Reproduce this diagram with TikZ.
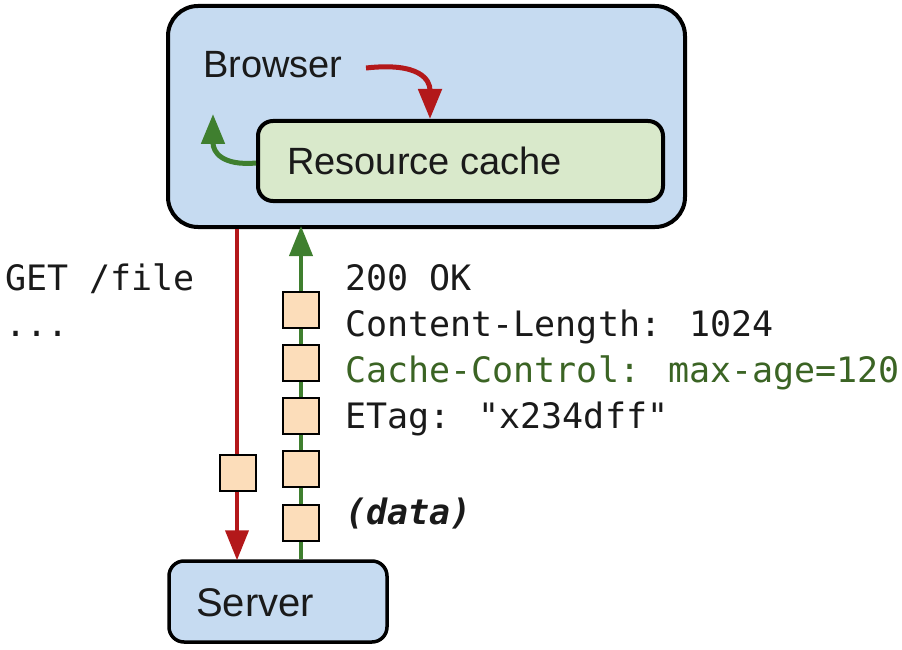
\documentclass[tikz,border=0pt]{standalone}
\usepackage{fontspec}
\setmainfont{Liberation Sans}
\newfontfamily\monofont{DejaVu Sans Mono}
\usetikzlibrary{arrows.meta}
\definecolor{boxblue}{HTML}{C6DBF1}
\definecolor{boxgreen}{HTML}{D9E9CB}
\definecolor{pktfill}{HTML}{FCDDBA}
\definecolor{arrred}{HTML}{B3181A}
\definecolor{arrgreen}{HTML}{3F7F2F}
\definecolor{txtgreen}{HTML}{3B6424}
\definecolor{txtdark}{HTML}{1A1A1A}
\tikzset{
  bigbox/.style={draw=black, line width=4pt, fill=boxblue, rounded corners=30pt, inner sep=0pt},
  cachebox/.style={draw=black, line width=4pt, fill=boxgreen, rounded corners=15pt, inner sep=0pt},
  serverbox/.style={draw=black, line width=3.5pt, fill=boxblue, rounded corners=15pt, inner sep=0pt},
  pkt/.style={draw=black, line width=2.5pt, fill=pktfill, minimum size=36pt, inner sep=0pt},
  sanslabel/.style={font=\fontsize{38}{38}\selectfont, text=txtdark, inner sep=0pt, anchor=base west},
  monolabel/.style={font=\monofont\fontsize{35}{35}\selectfont, text=txtdark, inner sep=0pt, anchor=base west},
  redarr/.style={draw=arrred, line width=4pt, -{Triangle[length=30pt,width=23pt]}},
  greenarr/.style={draw=arrgreen, line width=4pt, -{Triangle[length=30pt,width=23pt]}},
  curvewidth/.style={line width=5pt},
}
\begin{document}
\begin{tikzpicture}[x=1pt,y=-1pt]
\useasboundingbox (0,0) rectangle (902,650);
% boxes
\node[bigbox, minimum width=517pt, minimum height=221pt] (browser) at (426.5,116.5) {};
\node[cachebox, minimum width=405pt, minimum height=80pt] (cache) at (460.5,161) {};
\node[serverbox, minimum width=218pt, minimum height=81pt] (server) at (278,601.5) {};
% labels in boxes
\node[sanslabel] (browserlbl) at (203,78) {Browser};
\node[sanslabel] (cachelbl) at (287,174) {Resource cache};
\node[sanslabel, font=\fontsize{40}{40}\selectfont] (serverlbl) at (196,616) {Server};
% curved arrows inside browser
\coordinate (rstart) at (366,68);
\coordinate (rend) at (430,119);
\draw[redarr, curvewidth] (rstart) .. controls (420,62) and (430,80) .. (rend);
\coordinate (gstart) at (cache.west |- 0,163);
\coordinate (gend) at (213,114);
\draw[greenarr, curvewidth] (gstart) .. controls (222,166) and (213,152) .. (gend);
% vertical connectors
\coordinate (rx) at (237,0);
\coordinate (gx) at (301,0);
\draw[redarr] (browser.south -| rx) -- ([yshift=-1pt]server.north -| rx);
\draw[greenarr] (server.north -| gx) -- ([yshift=3pt]browser.south -| gx);
% packets
\node[pkt] (q1) at (238,473) {};
\node[pkt] (p1) at (301,310) {};
\node[pkt] (p2) at (301,363) {};
\node[pkt] (p3) at (301,416) {};
\node[pkt] (p4) at (301,469) {};
\node[pkt] (p5) at (301,523) {};
% texts
\node[monolabel] (get) at (5,290) {GET /file};
\node[monolabel] (dots) at (5,336) {...};
\node[monolabel] (ok) at (345,290) {200 OK};
\node[monolabel] (clen) at (345,336) {Content-Length: 1024};
\node[monolabel, text=txtgreen] (cctl) at (345,382) {Cache-Control: max-age=120};
\node[monolabel] (etag) at (345,428) {ETag: "x234dff"};
\node[monolabel, font=\monofont\bfseries\itshape\fontsize{35}{35}\selectfont] (data) at (345,524) {(data)};
\end{tikzpicture}
\end{document}
